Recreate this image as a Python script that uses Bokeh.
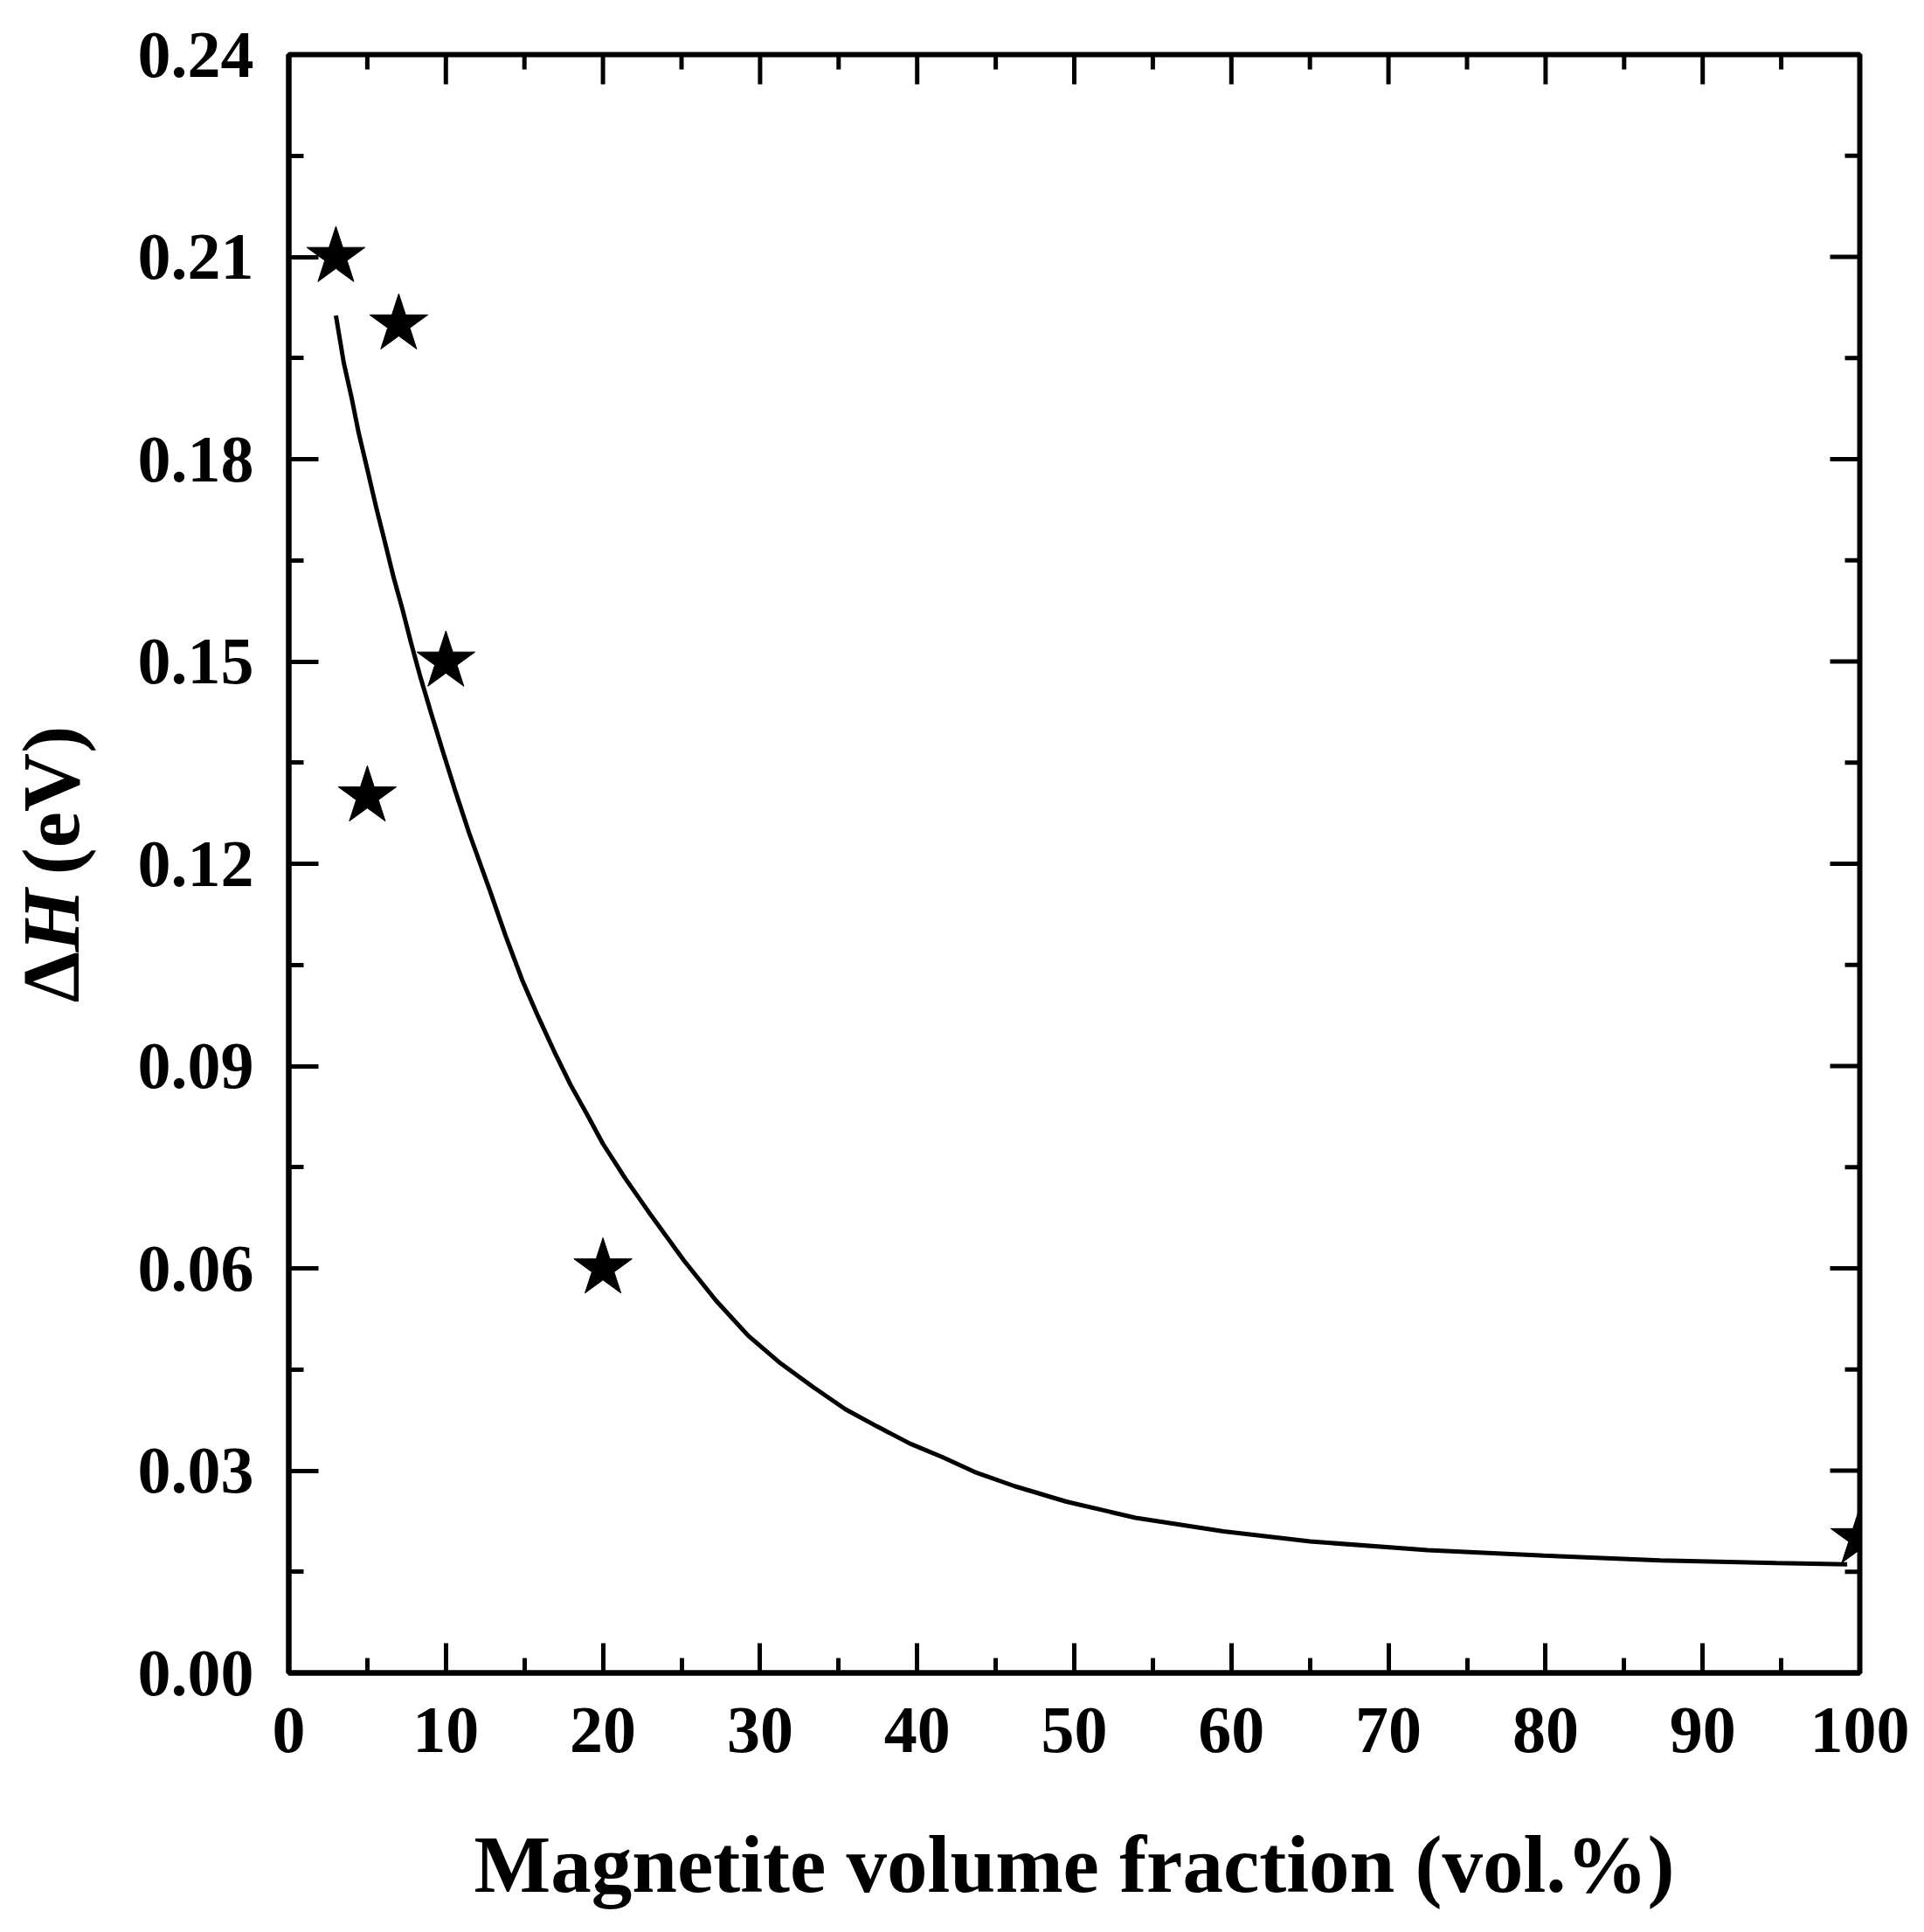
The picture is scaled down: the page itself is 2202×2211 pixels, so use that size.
import math
from bokeh.plotting import figure
from bokeh.layouts import row
from bokeh.models import (LinearAxis, Range1d, FixedTicker, PrintfTickFormatter,
                          ColumnDataSource)
from bokeh.core.properties import value
from bokeh.embed import file_html
from bokeh.resources import INLINE

# ---- data ----
star_x = [3, 5, 7, 10, 20, 100]
star_y = [0.210, 0.130, 0.200, 0.150, 0.060, 0.020]

fit_x = [3.0, 3.5, 4.0, 4.45, 5.0, 5.56, 6.12, 6.67, 7.23, 7.79, 8.34, 9.08, 9.83,
         10.57, 11.49, 12.79, 13.82, 14.85, 15.88, 16.91, 17.94, 18.97, 19.99, 21.43,
         23.08, 25.14, 27.20, 29.25, 31.31, 33.37, 35.43, 37.49, 39.55, 41.60, 43.66,
         46.2, 49.5, 53.9, 59.5, 65.0, 72.5, 79.9, 87.3, 94.7, 99.2]
fit_y = [0.2013, 0.1943, 0.1891, 0.1839, 0.1785, 0.1729, 0.1677, 0.1625, 0.1578,
         0.1527, 0.1480, 0.1422, 0.1365, 0.1310, 0.1245, 0.1161, 0.1092, 0.1028,
         0.0973, 0.0921, 0.0872, 0.0829, 0.0785, 0.0733, 0.0678, 0.0612, 0.0552,
         0.0500, 0.0459, 0.0424, 0.0391, 0.0365, 0.0340, 0.0320, 0.0298, 0.0277,
         0.0254, 0.0230, 0.0210, 0.0195, 0.0182, 0.0174, 0.0167, 0.0163, 0.0161]

x_major = [0, 10, 20, 30, 40, 50, 60, 70, 80, 90, 100]
x_minor = [5, 15, 25, 35, 45, 55, 65, 75, 85, 95]
y_major = [0.00, 0.03, 0.06, 0.09, 0.12, 0.15, 0.18, 0.21, 0.24]
y_minor = [0.015, 0.045, 0.075, 0.105, 0.135, 0.165, 0.195, 0.225]

x_label = "Magnetite volume fraction (vol.%)"
y_label_parts = ["\u0394", "H", " (eV)"]

X_MIN, X_MAX = 0, 100
Y_MIN, Y_MAX = 0.0, 0.24

FONT = "Liberation Serif"
TICK_SIZE = "76px"
LABEL_SIZE = "93px"

TOTAL_W, H = 2186, 2195
LEFT_W = 120
FRAME_L, FRAME_R, FRAME_T, FRAME_B = 330, 2128, 62, 1914
MAJ, MIN = 34, 17
frame_w = FRAME_R - FRAME_L
frame_h = FRAME_B - FRAME_T

W = TOTAL_W - LEFT_W
p = figure(width=W, height=H, output_backend="svg", toolbar_location=None,
           x_range=Range1d(X_MIN, X_MAX), y_range=Range1d(Y_MIN, Y_MAX),
           x_axis_location=None, y_axis_location=None,
           min_border_left=FRAME_L - LEFT_W, min_border_right=TOTAL_W - FRAME_R,
           min_border_top=FRAME_T, min_border_bottom=H - FRAME_B)
p.grid.visible = False
p.outline_line_color = "black"
p.outline_line_width = 6
p.background_fill_color = "white"
p.border_fill_color = "white"


def style_axis(ax):
    ax.axis_line_width = 6
    ax.axis_line_color = "black"
    ax.major_tick_in = MAJ
    ax.major_tick_out = 0
    ax.minor_tick_in = MIN
    ax.minor_tick_out = 0
    ax.major_tick_line_width = 5
    ax.minor_tick_line_width = 5
    ax.major_tick_line_color = "black"
    ax.minor_tick_line_color = "black"
    ax.major_label_text_font = FONT
    ax.major_label_text_font_style = "bold"
    ax.major_label_text_color = "black"
    ax.major_label_text_font_size = TICK_SIZE


xb = LinearAxis(ticker=FixedTicker(ticks=x_major, minor_ticks=x_minor))
style_axis(xb)
xb.major_label_standoff = 40
xb.axis_label = x_label
xb.axis_label_text_font = FONT
xb.axis_label_text_font_style = "bold"
xb.axis_label_text_font_size = LABEL_SIZE
xb.axis_label_text_color = "black"
xb.axis_label_standoff = 74
p.add_layout(xb, "below")

yl = LinearAxis(ticker=FixedTicker(ticks=y_major, minor_ticks=y_minor),
                formatter=PrintfTickFormatter(format="%.2f"))
style_axis(yl)
yl.major_label_standoff = 40
p.add_layout(yl, "left")

# inward ticks on the top and right frame edges
dy_maj = MAJ * (Y_MAX - Y_MIN) / frame_h
dy_min = MIN * (Y_MAX - Y_MIN) / frame_h
dx_maj = MAJ * (X_MAX - X_MIN) / frame_w
dx_min = MIN * (X_MAX - X_MIN) / frame_w
tick_style = dict(line_color="black", line_width=5)
p.segment(x0=x_major, y0=[Y_MAX] * len(x_major), x1=x_major,
          y1=[Y_MAX - dy_maj] * len(x_major), **tick_style)
p.segment(x0=x_minor, y0=[Y_MAX] * len(x_minor), x1=x_minor,
          y1=[Y_MAX - dy_min] * len(x_minor), **tick_style)
p.segment(x0=[X_MAX] * len(y_major), y0=y_major, x1=[X_MAX - dx_maj] * len(y_major),
          y1=y_major, **tick_style)
p.segment(x0=[X_MAX] * len(y_minor), y0=y_minor, x1=[X_MAX - dx_min] * len(y_minor),
          y1=y_minor, **tick_style)

# fitted curve
p.line(fit_x, fit_y, line_color="black", line_width=5)
# data stars
src = ColumnDataSource(dict(x=star_x, y=star_y))
p.scatter("x", "y", source=src, marker="star", size=70,
          fill_color="black", line_color="black", line_width=1)

# ---- y-axis title panel: "Δ" upright, "H" italic, " (eV)" upright ----
# its frame spans the same height as the main frame and shares its y scale
q = figure(width=LEFT_W, height=H, output_backend="svg", toolbar_location=None,
           x_range=Range1d(0, LEFT_W), y_range=Range1d(Y_MIN, Y_MAX),
           x_axis_location=None, y_axis_location=None,
           min_border_left=0, min_border_right=0,
           min_border_top=FRAME_T, min_border_bottom=H - FRAME_B)
q.grid.visible = False
q.outline_line_color = None
q.background_fill_color = "white"
q.border_fill_color = "white"


def page_y(py):
    # page pixel row -> shared y data value
    return Y_MIN + (FRAME_B - py) / frame_h * (Y_MAX - Y_MIN)


anchor_x = 58
common = dict(angle=math.pi / 2, text_font=value(FONT), text_font_size=LABEL_SIZE,
              text_color="black", text_baseline="alphabetic")
q.text(x=[anchor_x], y=[page_y(1147)], text=[y_label_parts[0]], text_font_style="bold",
       text_align="left", **common)
q.text(x=[anchor_x], y=[page_y(1089)], text=[y_label_parts[1]],
       text_font_style="bold italic", text_align="left", **common)
q.text(x=[anchor_x], y=[page_y(807)], text=[y_label_parts[2]], text_font_style="bold",
       text_align="right", **common)

layout = row(q, p)
open("out.html", "w").write(file_html(layout, INLINE))
